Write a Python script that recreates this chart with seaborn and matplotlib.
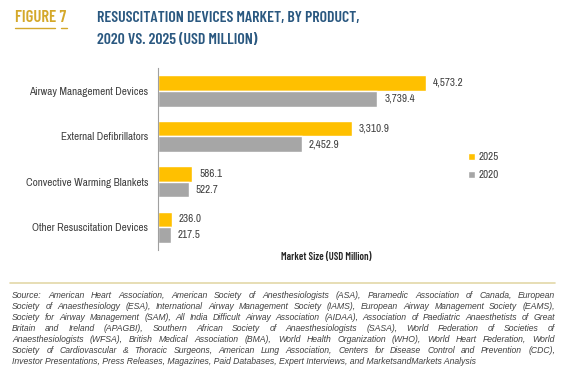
"""
plot.py
Resuscitation devices market by product, 2020 vs. 2025
"""
import pandas as pd
import matplotlib
matplotlib.use('Agg')
import matplotlib.pyplot as plt
import seaborn as sns

# DATA =================================

products = ['Airway Management Devices', 'External Defibrillators',
            'Convective Warming Blankets', 'Other Resuscitation Devices']
values_2025 = [4573.2, 3310.9, 586.1, 236.0]
values_2020 = [3739.4, 2452.9, 522.7, 217.5]
years = ['2025', '2020']

source_lines = [
    "Source: American Heart Association, American Society of Anesthesiologists (ASA), Paramedic Association of Canada, European",
    "Society of Anaesthesiology (ESA), International Airway Management Society (IAMS), European Airway Management Society (EAMS),",
    "Society for Airway Management (SAM), All India Difficult Airway Association (AIDAA), Association of Paediatric Anaesthetists of Great",
    "Britain and Ireland (APAGBI), Southern African Society of Anaesthesiologists (SASA), World Federation of Societies of",
    "Anaesthesiologists (WFSA), British Medical Association (BMA), World Health Organization (WHO), World Heart Federation, World",
    "Society of Cardiovascular & Thoracic Surgeons, American Lung Association, Centers for Disease Control and Prevention (CDC),",
    "Investor Presentations, Press Releases, Magazines, Paid Databases, Expert Interviews, and MarketsandMarkets Analysis",
]

df = pd.DataFrame({
    'Product': products * 2,
    'Year': ['2025'] * len(products) + ['2020'] * len(products),
    'Value': values_2025 + values_2020,
})

# PLOT =================================

sns.set_style('white')
plt.rcParams['font.family'] = ['Archivo Narrow', 'DejaVu Sans']
text_color = '#404040'
title_font = ['Barlow Condensed', 'DejaVu Sans']
source_font = ['Liberation Sans', 'DejaVu Sans']

fig = plt.figure(figsize=(5.66, 3.72), dpi=100)
ax = fig.add_axes([0.279, 0.328, 0.539, 0.489])

sns.barplot(data=df, y='Product', x='Value', hue='Year', hue_order=years,
            palette={'2025': '#FFC000', '2020': '#A6A6A6'}, width=0.69,
            orient='h', ax=ax, saturation=1)

for container in ax.containers:
    ax.bar_label(container, labels=[f'{v:,.1f}' for v in container.datavalues],
                 padding=5, fontsize=8, color=text_color)

ax.set_xlim(0, 5200)
ax.set_ylim(3.5, -0.5)
ax.set_xlabel('')
ax.set_ylabel('')
ax.set_xticks([])
ax.set_yticks(range(len(products)))
ax.set_yticklabels(products, fontsize=8, color=text_color)
ax.set_yticks([i - 0.5 for i in range(len(products) + 1)], minor=True)
ax.tick_params(axis='y', which='major', length=0, pad=7)
ax.tick_params(axis='y', which='minor', length=4, color='#A0A0A0', width=0.8)
for side in ['top', 'right', 'bottom']:
    ax.spines[side].set_visible(False)
ax.spines['left'].set_color('#A0A0A0')
ax.spines['left'].set_linewidth(0.8)

leg = ax.legend(loc='center left', bbox_to_anchor=(0.985, 0.46), frameon=False,
                fontsize=8, handlelength=0.6, handleheight=0.6,
                handletextpad=0.3, labelspacing=0.75)
for t in leg.get_texts():
    t.set_color(text_color)

fig.text(0.576, 0.31, 'Market Size (USD Million)', ha='center', va='center',
         fontsize=7.5, fontweight='semibold', color='#262626', family=title_font)

# Title
fig.text(0.027, 0.952, 'FIGURE 7', ha='left', va='center', fontsize=12,
         fontweight='semibold', color='#D4A82A', family=title_font)
fig.add_artist(plt.Line2D([0.027, 0.097], [0.925, 0.925], color='#D4A82A',
                          linewidth=1.0))
fig.add_artist(plt.Line2D([0.107, 0.118], [0.925, 0.925], color='#D4A82A',
                          linewidth=1.0))
fig.text(0.171, 0.952, 'RESUSCITATION DEVICES MARKET, BY PRODUCT,', ha='left',
         va='center', fontsize=11.4, fontweight='semibold', color='#2A5880',
         family=title_font)
fig.text(0.171, 0.892, '2020 VS. 2025 (USD MILLION)', ha='left',
         va='center', fontsize=11.4, fontweight='semibold', color='#2A5880',
         family=title_font)

# Separator and source
fig.add_artist(plt.Line2D([0.018, 0.98], [0.239, 0.239], color='#E3D8A8',
                          linewidth=1.2))

renderer = fig.canvas.get_renderer()
x_left, x_right = 12, 555
y = 0.205
for i, line in enumerate(source_lines):
    words = line.split(' ')
    if i == len(source_lines) - 1:
        fig.text(x_left / 566, y, line, ha='left', va='center', fontsize=6.2,
                 style='italic', color='#404040', family=source_font)
    else:
        texts = [fig.text(0, y, w, ha='left', va='center', fontsize=6.2,
                          style='italic', color='#404040', family=source_font)
                 for w in words]
        widths = [t.get_window_extent(renderer).width for t in texts]
        gap = (x_right - x_left - sum(widths)) / (len(words) - 1)
        x = x_left
        for t, w in zip(texts, widths):
            t.set_x(x / 566)
            x += w + gap
    y -= 0.0295

plt.savefig('out.png', dpi=100)
